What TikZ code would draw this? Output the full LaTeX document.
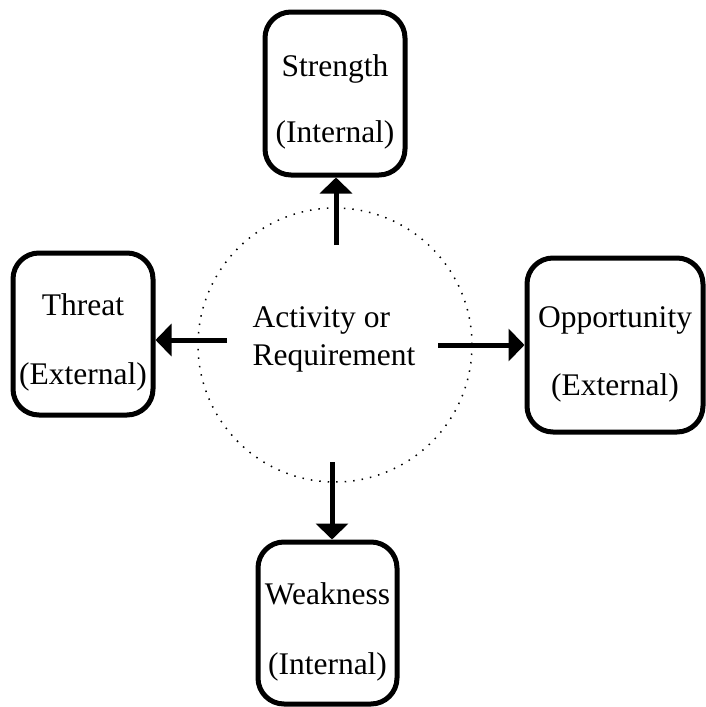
\documentclass[tikz,border=0pt]{standalone}
\usepackage{fontspec}
\setmainfont{Liberation Serif}
\usetikzlibrary{arrows.meta}
\newcommand{\boxstrut}{\rule{0pt}{39pt}}
\begin{document}
\begin{tikzpicture}[x=1pt,y=-1pt,
  swotbox/.style={draw,line width=5pt,rounded corners=26pt,align=center,inner sep=0pt},
  link/.style={line width=5pt,-{Triangle[length=16pt,width=32pt]}},
  font=\fontsize{31.5}{38}\selectfont]
  \useasboundingbox (0,0) rectangle (706,707);
  % central activity
  \draw[line width=1.5pt,dash pattern=on 1.5pt off 7pt] (335,345) circle (137);
  \node[align=left] (activity) at (334,339) {Activity or\\Requirement};
  % the four boxes
  \node[swotbox,minimum width=140pt,minimum height=163pt] (strength) at (335,93.5)
    {\boxstrut Strength\\[28pt](Internal)};
  \node[swotbox,minimum width=140pt,minimum height=162pt] (threat) at (83,334)
    {\boxstrut Threat\\[31pt](External)};
  \node[swotbox,minimum width=176pt,minimum height=174pt] (opportunity) at (615,345)
    {\boxstrut Opportunity\\[30pt](External)};
  \node[swotbox,minimum width=139pt,minimum height=162pt] (weakness) at (327.5,623)
    {\boxstrut Weakness\\[32pt](Internal)};
  % arrows out of the circle
  \coordinate (up) at (336,245);
  \coordinate (lt) at (227,340);
  \coordinate (rt) at (438,345);
  \coordinate (dn) at (332,462);
  \draw[link] (up) -- (up |- strength.south);
  \draw[link] (lt) -- (lt -| threat.east);
  \draw[link] (rt) -- (rt -| opportunity.west);
  \draw[link] (dn) -- (dn |- weakness.north);
\end{tikzpicture}
\end{document}
